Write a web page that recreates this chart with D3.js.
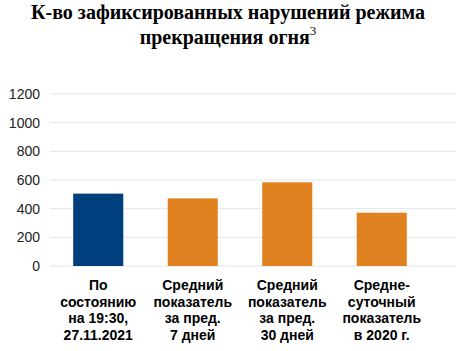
<!DOCTYPE html>
<html lang="ru">
<head>
<meta charset="utf-8">
<title>Нарушения режима прекращения огня</title>
<script src="https://d3js.org/d3.v7.min.js"></script>
<style>
  body { margin: 0; background: #fff; }
  .title { font-family: "Liberation Serif", "Times New Roman", "DejaVu Serif", serif; font-weight: bold; font-size: 20px; fill: #000; }
  .tick text { font-family: "Liberation Sans", Arial, sans-serif; font-size: 14px; fill: #222; }
  .cat { font-family: "Liberation Sans", Arial, sans-serif; font-weight: bold; font-size: 14px; fill: #000; }
</style>
</head>
<body>
<div id="vis"></div>
<script>
const categories = ["c1", "c2", "c3", "c4"];
const catLabels = [
  ["По", "состоянию", "на 19:30,", "27.11.2021"],
  ["Средний", "показатель", "за пред.", "7 дней"],
  ["Средний", "показатель", "за пред.", "30 дней"],
  ["Средне-", "суточный", "показатель", "в 2020 г."]
];
const values = [505, 472, 584, 372];
const barColors = ["#003f7d", "#e0821f", "#e0821f", "#e0821f"];
const yTicks = [0, 200, 400, 600, 800, 1000, 1200];

const width = 456, height = 351;

const svg = d3.select("#vis").append("svg")
  .attr("width", width).attr("height", height);

const x = d3.scaleBand()
  .domain(categories)
  .range([51, 429])
  .paddingInner(0.47)
  .paddingOuter(0.235);

const y = d3.scaleLinear()
  .domain([0, 1200])
  .range([266, 94]);

// title, one text block with two lines
const title = svg.append("text").attr("class", "title").attr("text-anchor", "middle");
const l1 = title.append("tspan").attr("x", 228).attr("y", 19)
  .text("К-во зафиксированных нарушений режима");
// fit first line to ~430px like the reference
const fs = Math.min(20, 20 * 430 / l1.node().getComputedTextLength());
title.style("font-size", fs + "px");
title.append("tspan").attr("x", 228).attr("y", 44).text("прекращения огня");
title.append("tspan").attr("dy", -9).attr("font-size", 13).attr("font-weight", "normal").text("3");

// gridlines
svg.append("g").selectAll("line")
  .data(yTicks)
  .join("line")
  .attr("x1", 50).attr("x2", width)
  .attr("y1", d => y(d)).attr("y2", d => y(d))
  .attr("stroke", "#e4e4e4").attr("stroke-width", 1);

// y axis
const yAxis = svg.append("g")
  .attr("transform", "translate(40,0)")
  .call(d3.axisLeft(y).tickValues(yTicks).tickFormat(d3.format("d")).tickSize(0).tickPadding(0));
yAxis.select(".domain").remove();

// bars
svg.append("g").selectAll("rect")
  .data(values)
  .join("rect")
  .attr("x", (d, i) => x(categories[i]))
  .attr("y", d => y(d))
  .attr("width", x.bandwidth())
  .attr("height", d => y(0) - y(d))
  .attr("fill", (d, i) => barColors[i]);

// category labels
const cats = svg.append("g").selectAll("text")
  .data(catLabels)
  .join("text")
  .attr("class", "cat")
  .attr("text-anchor", "middle");
cats.each(function(lines, i) {
  const cx = x(categories[i]) + x.bandwidth() / 2;
  d3.select(this).selectAll("tspan")
    .data(lines)
    .join("tspan")
    .attr("x", cx)
    .attr("y", (d, j) => 290 + j * 16.5)
    .text(d => d);
});
</script>
</body>
</html>
